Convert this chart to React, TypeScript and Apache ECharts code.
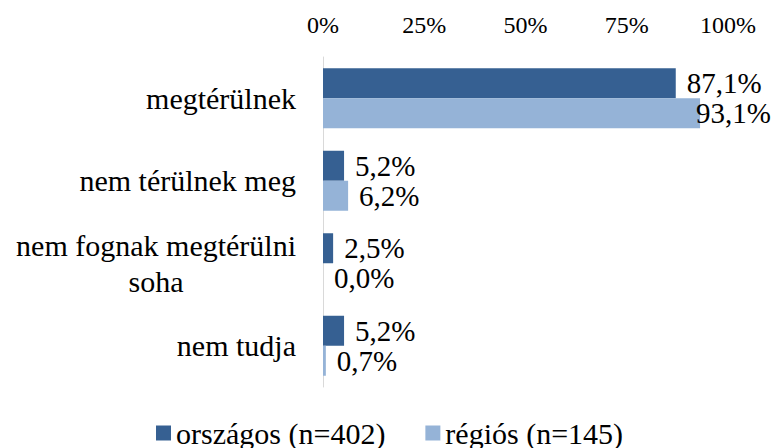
import React, { useEffect, useRef } from "react";
import * as echarts from "echarts";

const categories = ["megtérülnek", "nem térülnek meg", "nem fognak megtérülni\nsoha", "nem tudja"];
const seriesNames = ["országos (n=402)", "régiós (n=145)"];
const orszagos = [87.1, 5.2, 2.5, 5.2];
const regios = [93.1, 6.2, 0.0, 0.7];
const xTicks = [0, 25, 50, 75, 100];

const FONT = "Liberation Serif";
const DARK = "#366092";
const LIGHT = "#95B3D7";

const fmt = (v: number) => v.toFixed(1).replace(".", ",") + "%";

export default function App() {
  const ref = useRef<HTMLDivElement>(null);
  useEffect(() => {
    if (!ref.current) return;
    const chart = echarts.init(ref.current, null, { renderer: "svg" });
    const labelBase = {
      show: true,
      position: "right",
      distance: 11,
      color: "#000",
      fontFamily: FONT,
      fontSize: 29,
      formatter: (p: any) => fmt(p.value),
    };
    const mk = (vals: number[]) =>
      vals.map((v) => (v > 90 ? { value: v, label: { offset: [-15, 0] } } : v));
    chart.setOption({
      animation: false,
      textStyle: { fontFamily: FONT },
      grid: { left: 323, right: 49, top: 57, bottom: 61, containLabel: false },
      legend: {
        data: seriesNames,
        left: 156,
        top: 416,
        padding: 0,
        itemWidth: 15,
        itemHeight: 15,
        itemGap: 40,
        icon: "rect",
        textStyle: { fontFamily: FONT, fontSize: 30, color: "#000", lineHeight: 34 },
      },
      xAxis: {
        type: "value",
        position: "top",
        min: xTicks[0],
        max: xTicks[xTicks.length - 1],
        interval: xTicks[1] - xTicks[0],
        axisLine: { show: false },
        axisTick: { show: false },
        splitLine: { show: false },
        axisLabel: {
          formatter: "{value}%",
          fontFamily: FONT,
          fontSize: 24,
          color: "#000",
          margin: 20,
        },
      },
      yAxis: {
        type: "category",
        inverse: true,
        data: categories,
        axisLine: { show: true, lineStyle: { color: "#d9d9d9", width: 1 } },
        axisTick: { show: false },
        axisLabel: {
          margin: 27,
          fontFamily: FONT,
          fontSize: 30,
          color: "#000",
          lineHeight: 36,
          formatter: (v: string) =>
            v.includes("\n")
              ? v
                  .split("\n")
                  .map((s) => "{c|" + s + "}")
                  .join("\n")
              : v,
          rich: {
            c: { align: "center", fontFamily: FONT, fontSize: 30, color: "#000", lineHeight: 36 },
          },
        },
      },
      series: [
        {
          name: seriesNames[0],
          type: "bar",
          data: mk(orszagos),
          barWidth: 30,
          barGap: "0%",
          itemStyle: { color: DARK },
          label: labelBase,
        },
        {
          name: seriesNames[1],
          type: "bar",
          data: mk(regios),
          barWidth: 30,
          barGap: "0%",
          itemStyle: { color: LIGHT },
          label: labelBase,
        },
      ],
    });
    return () => chart.dispose();
  }, []);
  return (
    <div
      ref={ref}
      style={{ position: "fixed", left: 0, top: 0, width: 777, height: 448, background: "#fff" }}
    />
  );
}
